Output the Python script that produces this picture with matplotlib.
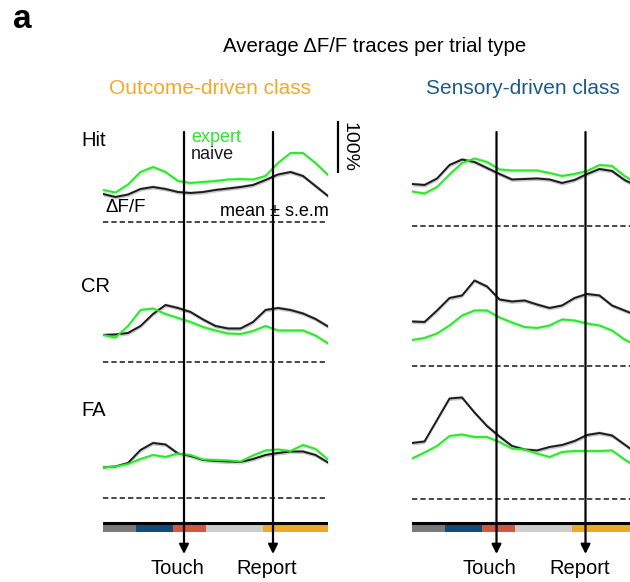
import matplotlib

matplotlib.use("Agg")
import matplotlib.pyplot as plt

plt.rcParams["font.family"] = ["Liberation Sans", "DejaVu Sans"]

# ---- palette ----
GREEN = "#2ee62e"
BLACK = "#1c1c1c"
ORANGE = "#f0a92b"
NAVY = "#1b5b8a"
EPOCH_COLORS = ["#7a7a7a", "#0f4c7c", "#d25a3c", "#cdcdcd", "#eeaa26"]

# ---- data: mean dF/F (%) sampled every 0.5 s ----
TIME = [0.0, 0.5, 1.0, 1.5, 2.0, 2.5, 3.0, 3.5, 4.0, 4.5,
        5.0, 5.5, 6.0, 6.5, 7.0, 7.5, 8.0, 8.5, 9.0]
ROWS = ["Hit", "CR", "FA"]

# outcome-driven class
OUT_HIT_EXPERT = [64, 59, 75, 100, 110, 100, 82, 78, 80, 82, 85, 86, 85, 92, 118, 138, 138, 118, 94]
OUT_HIT_NAIVE = [56, 50, 55, 66, 70, 66, 60, 58, 60, 64, 67, 70, 74, 84, 95, 100, 92, 72, 52]
OUT_CR_EXPERT = [54, 49, 72, 104, 107, 96, 88, 80, 70, 63, 57, 56, 62, 72, 63, 63, 63, 53, 37]
OUT_CR_NAIVE = [54, 55, 58, 72, 96, 114, 108, 100, 85, 72, 67, 67, 80, 104, 108, 104, 97, 86, 71]
OUT_FA_EXPERT = [61, 63, 68, 78, 86, 82, 89, 86, 77, 76, 75, 73, 85, 95, 97, 94, 106, 98, 77]
OUT_FA_NAIVE = [61, 63, 70, 96, 110, 107, 89, 84, 76, 74, 73, 72, 78, 86, 90, 93, 93, 86, 71]

# sensory-driven class
SEN_HIT_EXPERT = [69, 65, 78, 103, 126, 135, 128, 113, 111, 111, 111, 106, 100, 104, 110, 122, 120, 100, 85]
SEN_HIT_NAIVE = [84, 82, 95, 122, 133, 128, 116, 104, 93, 94, 95, 93, 86, 92, 104, 114, 110, 92, 80]
SEN_CR_EXPERT = [51, 55, 64, 80, 100, 110, 110, 96, 86, 77, 75, 80, 92, 90, 84, 80, 70, 52, 40]
SEN_CR_NAIVE = [88, 87, 110, 135, 140, 170, 158, 132, 128, 130, 122, 115, 120, 135, 143, 140, 120, 110, 100]
SEN_FA_EXPERT = [80, 92, 105, 125, 128, 123, 123, 113, 100, 98, 90, 83, 93, 95, 95, 95, 96, 78, 62]
SEN_FA_NAIVE = [111, 114, 157, 200, 202, 172, 145, 124, 105, 98, 96, 103, 107, 115, 127, 131, 126, 108, 90]

SEM = 4  # s.e.m. band half-width (%)

# trial epochs (s) and event times per class
EPOCH_EDGES = [0.0, 1.3, 2.8, 4.1, 6.4, 9.0]
TOUCH_T = [3.24, 3.38]
REPORT_T = [6.8, 6.94]

# ---- layout (pixels) ----
W, H = 630, 582
COL_LEFT = [103, 412]
COL_WIDTH = 225
ROW_OFFSET = [[0, -280, -552], [-8, -287, -553]]
YLIM = (-720, 244)


def fx(px):
    return px / W


def fy(py):
    return 1 - py / H


fig = plt.figure(figsize=(W / 100, H / 100), dpi=100)

classes = [
    [(OUT_HIT_EXPERT, OUT_HIT_NAIVE), (OUT_CR_EXPERT, OUT_CR_NAIVE), (OUT_FA_EXPERT, OUT_FA_NAIVE)],
    [(SEN_HIT_EXPERT, SEN_HIT_NAIVE), (SEN_CR_EXPERT, SEN_CR_NAIVE), (SEN_FA_EXPERT, SEN_FA_NAIVE)],
]

for c, rows in enumerate(classes):
    ax = fig.add_axes([fx(COL_LEFT[c]), 0, COL_WIDTH / W, 1 - 100 / H])
    ax.set_xlim(0, 9)
    ax.set_ylim(*YLIM)
    ax.axis("off")

    for r, (expert, naive) in enumerate(rows):
        off = ROW_OFFSET[c][r]
        ax.plot([0, 9], [off, off], ls=(0, (3.2, 1.8)), color="#2a2a2a", lw=1.2)
        for vals, col, band in [(naive, BLACK, "#c8c8c8"), (expert, GREEN, "#c6f5c6")]:
            y = [v + off for v in vals]
            ax.fill_between(TIME, [v - SEM for v in y], [v + SEM for v in y],
                            color=band, lw=0, zorder=2)
            ax.plot(TIME, y, color=col, lw=1.4, zorder=3,
                    solid_joinstyle="round", solid_capstyle="round")

    # epoch bar
    lefts = EPOCH_EDGES[:-1]
    widths = [b - a for a, b in zip(EPOCH_EDGES[:-1], EPOCH_EDGES[1:])]
    ax.barh(-611, widths, left=lefts, height=18, color=EPOCH_COLORS, zorder=2)
    ax.plot([0, 9], [-602, -602], color="black", lw=2.2, zorder=3)

    # event arrows
    for t in (TOUCH_T[c], REPORT_T[c]):
        ax.annotate("", xy=(t, -664), xytext=(t, 180),
                    arrowprops=dict(arrowstyle="-|>", color="black", lw=1.6,
                                    mutation_scale=14, shrinkA=0, shrinkB=0),
                    zorder=4)

    if c == 0:
        # scale bar
        ax.plot([9.4, 9.4], [100, 200], color="black", lw=1.6, clip_on=False)
        ax.text(9.52, 150, "100%", rotation=-90, ha="left", va="center", fontsize=14)

# ---- text ----
fig.text(fx(13), fy(20), "a", fontsize=24, fontweight="bold", ha="left", va="center")
fig.text(fx(375), fy(46), "Average ΔF/F traces per trial type", fontsize=14.7,
         ha="center", va="center")
fig.text(fx(210), fy(88), "Outcome-driven class", fontsize=15, color=ORANGE,
         ha="center", va="center")
fig.text(fx(523), fy(88), "Sensory-driven class", fontsize=15, color=NAVY,
         ha="center", va="center")

for name, py in zip(ROWS, [140, 286, 410]):
    fig.text(fx(81), fy(py), name, fontsize=14.5, ha="left", va="center")

fig.text(fx(191), fy(137), "expert", fontsize=13, color=GREEN, ha="left", va="center")
fig.text(fx(191), fy(155), "naive", fontsize=13, color=BLACK, ha="left", va="center")
fig.text(fx(105), fy(207), "ΔF/F", fontsize=13.5, ha="left", va="center")
fig.text(fx(329), fy(212), "mean ± s.e.m", fontsize=13, ha="right", va="center")

for c in range(2):
    for t, label, dx in [(TOUCH_T[c], "Touch", -7), (REPORT_T[c], "Report", -6)]:
        px = COL_LEFT[c] + t * COL_WIDTH / 9 + dx
        fig.text(fx(px), fy(569), label, fontsize=14.5, ha="center", va="center")

fig.savefig("out.png", dpi=100)
